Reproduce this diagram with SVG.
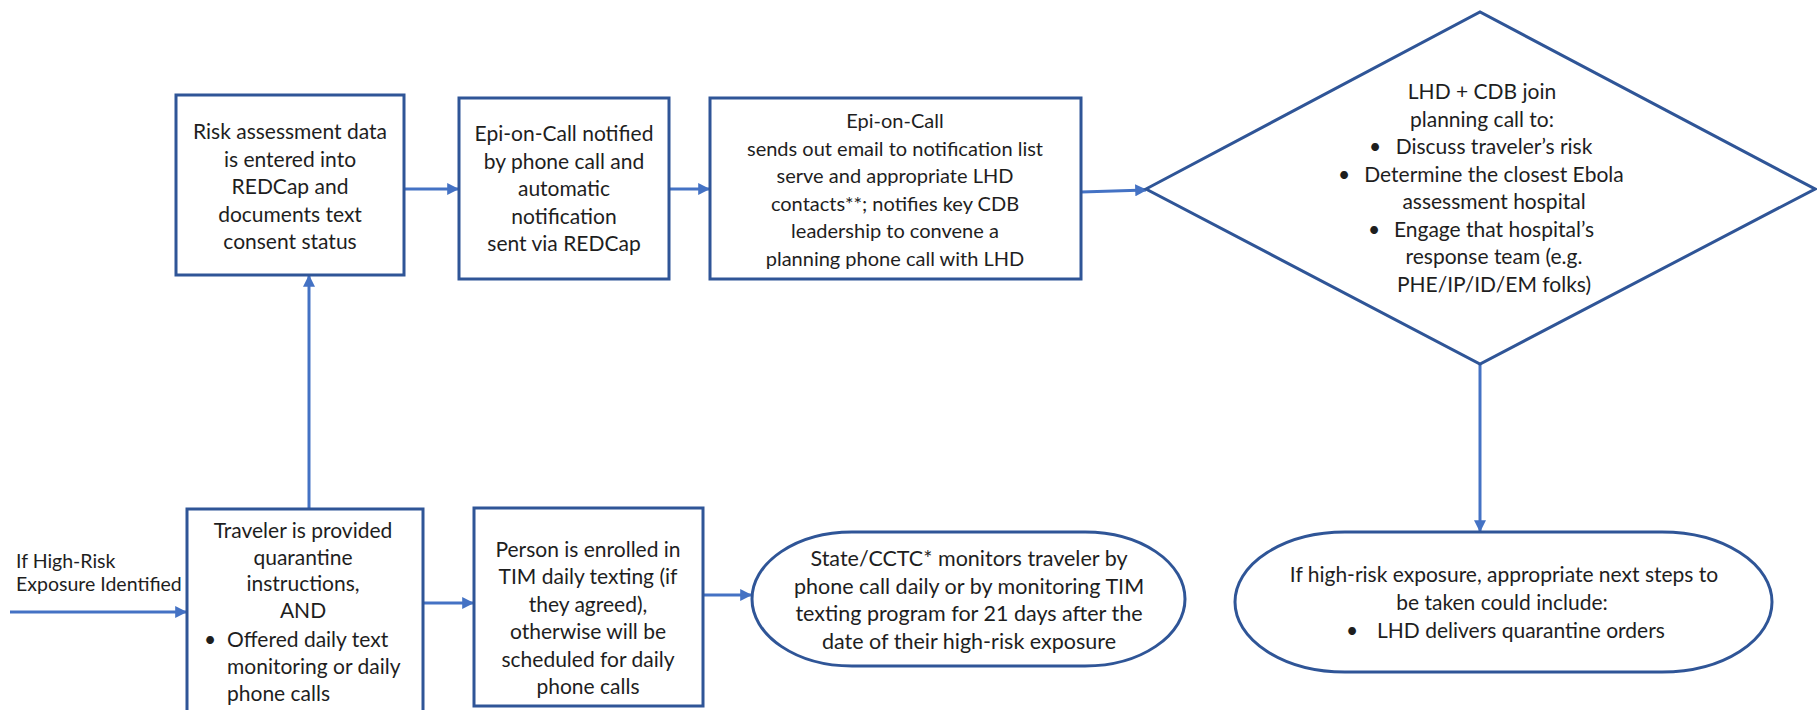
<svg xmlns="http://www.w3.org/2000/svg" width="1817" height="710" viewBox="0 0 1817 710">
<defs>
<style>
.box{fill:#ffffff;stroke:#2F5597;stroke-width:3}
.con{fill:none;stroke:#4472C4;stroke-width:3}
text{font-family:Lato,"Open Sans","Liberation Sans",sans-serif;font-size:21px;fill:#1e1e1e}
.c{text-anchor:middle}
.s20{font-size:20px}
.s19{font-size:19.5px}
.s215{font-size:21.5px}
</style>
<marker id="ah" viewBox="0 0 10 10" refX="9" refY="5" markerWidth="4" markerHeight="4" orient="auto" markerUnits="strokeWidth">
<path d="M0,0 L10,5 L0,10 z" fill="#4472C4"/>
</marker>
</defs>
<rect width="1817" height="710" fill="#ffffff"/>
<g id="connectors">
<line class="con" x1="10" y1="612" x2="186" y2="612" marker-end="url(#ah)"/>
<line class="con" x1="309" y1="509" x2="309" y2="276" marker-end="url(#ah)"/>
<line class="con" x1="404" y1="189" x2="458" y2="189" marker-end="url(#ah)"/>
<line class="con" x1="669" y1="189" x2="709" y2="189" marker-end="url(#ah)"/>
<line class="con" x1="1081" y1="192" x2="1146" y2="190" marker-end="url(#ah)"/>
<line class="con" x1="1480" y1="364" x2="1480" y2="531" marker-end="url(#ah)"/>
<line class="con" x1="424" y1="603" x2="473" y2="603" marker-end="url(#ah)"/>
<line class="con" x1="703" y1="595" x2="751" y2="595" marker-end="url(#ah)"/>
</g>
<g id="label-entry" class="s19">
<text class="s19" x="16" y="568">If High-Risk</text>
<text class="s19" x="16" y="591">Exposure Identified</text>
</g>
<g id="node-risk">
<rect class="box" x="176" y="95" width="228" height="180"/>
<text class="c" x="290" y="139">Risk assessment data</text>
<text class="c" x="290" y="166.5">is entered into</text>
<text class="c" x="290" y="194">REDCap and</text>
<text class="c" x="290" y="221.5">documents text</text>
<text class="c" x="290" y="249">consent status</text>
</g>
<g id="node-epi-notified">
<rect class="box" x="459" y="98" width="210" height="181"/>
<text class="c" x="564" y="141">Epi-on-Call notified</text>
<text class="c" x="564" y="168.5">by phone call and</text>
<text class="c" x="564" y="196">automatic</text>
<text class="c" x="564" y="223.5">notification</text>
<text class="c" x="564" y="251">sent via REDCap</text>
</g>
<g id="node-epi-email">
<rect class="box" x="710" y="98" width="371" height="181"/>
<text class="c s20" x="895" y="128">Epi-on-Call</text>
<text class="c s20" x="895" y="155.5">sends out email to notification list</text>
<text class="c s20" x="895" y="183">serve and appropriate LHD</text>
<text class="c s20" x="895" y="210.5">contacts**; notifies key CDB</text>
<text class="c s20" x="895" y="238">leadership to convene a</text>
<text class="c s20" x="895" y="265.5">planning phone call with LHD</text>
</g>
<g id="node-planning">
<polygon class="box" points="1146,189 1480,12 1815,189 1480,364"/>
<text class="c" x="1482" y="99">LHD + CDB join</text>
<text class="c" x="1482" y="126.5">planning call to:</text>
<text x="1369" y="154">•</text>
<text class="c" x="1494" y="154">Discuss traveler’s risk</text>
<text x="1338" y="181.5">•</text>
<text class="c" x="1494" y="181.5">Determine the closest Ebola</text>
<text class="c" x="1494" y="209">assessment hospital</text>
<text x="1368" y="236.5">•</text>
<text class="c" x="1494" y="236.5">Engage that hospital’s</text>
<text class="c" x="1494" y="264">response team (e.g.</text>
<text class="c" x="1494" y="291.5">PHE/IP/ID/EM folks)</text>
</g>
<g id="node-traveler">
<rect class="box" x="187" y="509" width="236" height="215"/>
<text class="c" x="303" y="538">Traveler is provided</text>
<text class="c" x="303" y="564.5">quarantine</text>
<text class="c" x="303" y="591">instructions,</text>
<text class="c" x="303" y="617.5">AND</text>
<text x="204" y="647">•</text>
<text x="227" y="647">Offered daily text</text>
<text x="227" y="674">monitoring or daily</text>
<text x="227" y="701">phone calls</text>
</g>
<g id="node-enrolled">
<rect class="box" x="474" y="508" width="229" height="198"/>
<text class="c" x="588" y="557">Person is enrolled in</text>
<text class="c" x="588" y="584">TIM daily texting (if</text>
<text class="c" x="588" y="611.5">they agreed),</text>
<text class="c" x="588" y="639">otherwise will be</text>
<text class="c" x="588" y="666.5">scheduled for daily</text>
<text class="c" x="588" y="694">phone calls</text>
</g>
<g id="node-monitor">
<rect class="box" x="752" y="532" width="433" height="134" rx="100" ry="67"/>
<text class="c s215" x="969" y="566">State/CCTC* monitors traveler by</text>
<text class="c s215" x="969" y="593.5">phone call daily or by monitoring TIM</text>
<text class="c s215" x="969" y="621">texting program for 21 days after the</text>
<text class="c s215" x="969" y="648.5">date of their high-risk exposure</text>
</g>
<g id="node-nextsteps">
<rect class="box" x="1235" y="532" width="537" height="140" rx="110" ry="70"/>
<text class="c" x="1504" y="582">If high-risk exposure, appropriate next steps to</text>
<text class="c" x="1502" y="609.5">be taken could include:</text>
<text x="1346" y="638">•</text>
<text x="1377" y="638">LHD delivers quarantine orders</text>
</g>
</svg>
